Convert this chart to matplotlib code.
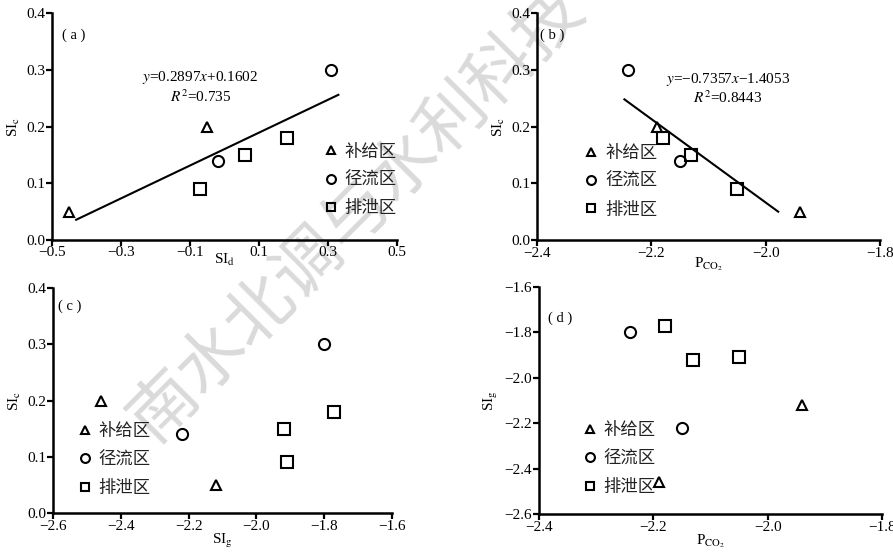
import matplotlib
matplotlib.use("Agg")
import matplotlib.pyplot as plt
import numpy as np

plt.rcParams['font.family'] = ['Liberation Serif', 'Noto Sans CJK SC']
plt.rcParams['mathtext.fontset'] = 'stix'
plt.rcParams['font.size'] = 10.5

# donnees, par zone
# 补给区 (recharge)
bu_sid = [-0.45, -0.05]
bu_sic = [0.05, 0.20]
bu_pco2 = [-1.94, -2.19]
bu_sig = [-2.12, -2.46]
# 径流区 (runoff)
jing_sid = [-0.02, 0.31]
jing_sic = [0.14, 0.30]
jing_pco2 = [-2.15, -2.24]
jing_sig = [-2.22, -1.80]
# 排泄区 (discharge)
pai_sid = [-0.07, 0.06, 0.18]
pai_sic = [0.09, 0.15, 0.18]
pai_pco2 = [-2.05, -2.13, -2.18]
pai_sig = [-1.91, -1.92, -1.77]

zones = ['补给区', '径流区', '排泄区']
markers = ['^', 'o', 's']

fig = plt.figure(figsize=(8.93, 5.54), dpi=100)
ax_a = fig.add_axes([0.0582, 0.5668, 0.3864, 0.4097])
ax_b = fig.add_axes([0.6013, 0.5668, 0.3841, 0.4097])
ax_c = fig.add_axes([0.0594, 0.0740, 0.3796, 0.4061])
ax_d = fig.add_axes([0.6036, 0.0722, 0.3841, 0.4098])

pco2_lab = r'P$_{\mathrm{CO}_2}$'


def scatter_zones(ax, xs, ys):
    for x, y, m, lab in zip(xs, ys, markers, zones):
        ms = 7.5 if m == '^' else 8
        ax.plot(x, y, linestyle='none', marker=m, ms=ms, mfc='none', mec='black',
                mew=1.5, label=lab, zorder=3)


def style_axis(ax, xticks, yticks, xlabel, ylabel, panel, panel_pos, xpad=-1):
    for s in ['top', 'right']:
        ax.spines[s].set_visible(False)
    for s in ['left', 'bottom']:
        ax.spines[s].set_linewidth(1.8)
    ax.set_facecolor('none')
    ax.set_xlim(xticks[0], xticks[-1])
    ax.set_ylim(yticks[0], yticks[-1])
    ax.set_xticks(xticks)
    ax.set_yticks(yticks)
    ax.set_xticklabels([('%.1f' % t).replace('-', '\u2212') for t in xticks])
    ax.set_yticklabels([('%.1f' % t).replace('-', '\u2212') for t in yticks])
    ax.tick_params(direction='out', length=4, width=1.6, pad=1, labelsize=11)
    ax.set_xlabel(xlabel, fontsize=11, labelpad=xpad)
    ax.set_ylabel(ylabel, fontsize=11, labelpad=3)
    ax.text(panel_pos[0], panel_pos[1], panel, transform=ax.transAxes, fontsize=10.5)


def legend_zones(ax, anchor):
    leg = ax.legend(loc='upper left', bbox_to_anchor=anchor, frameon=False,
                    prop={'family': 'Noto Sans CJK SC', 'size': 12.5},
                    handletextpad=0.35, labelspacing=0.6, markerscale=0.8,
                    handlelength=0.9, borderaxespad=0)
    for t in leg.get_texts():
        t.set_color('#222222')


# (a) SIc vs SId
scatter_zones(ax_a, [bu_sid, jing_sid, pai_sid], [bu_sic, jing_sic, pai_sic])
sid_all = np.array(bu_sid + jing_sid + pai_sid)
sic_all = np.array(bu_sic + jing_sic + pai_sic)
k, b = np.polyfit(sid_all, sic_all, 1)
xl = np.array([-0.43, 0.33])
ax_a.plot(xl, k * xl + b, color='black', lw=1.5)
ax_a.text(-0.07, 0.287, r'$y$=%.4f$x$+%.4f' % (k, b), ha='center', va='center', fontsize=11)
ax_a.text(-0.07, 0.252, r'$R^2$=0.735', ha='center', va='center', fontsize=11)
style_axis(ax_a, [-0.5, -0.3, -0.1, 0.1, 0.3, 0.5], [0.0, 0.1, 0.2, 0.3, 0.4],
           r'SI$_\mathrm{d}$', r'SI$_\mathrm{c}$', '( a )', (0.03, 0.885), xpad=-5)
ax_a.tick_params(axis='x', pad=0)
legend_zones(ax_a, (0.765, 0.46))

# (b) SIc vs PCO2
scatter_zones(ax_b, [bu_pco2, jing_pco2, pai_pco2], [bu_sic, jing_sic, pai_sic])
p_all = np.array(bu_pco2 + jing_pco2 + pai_pco2)
k2, b2 = np.polyfit(p_all, sic_all, 1)
xl2 = np.array([-2.247, -1.978])
ax_b.plot(xl2, k2 * xl2 + b2, color='black', lw=1.5)
ax_b.text(-2.066, 0.282, (r'$y$=%.4f$x$%.4f' % (k2, b2)).replace('-', '\u2212'),
          ha='center', va='center', fontsize=11)
ax_b.text(-2.066, 0.250, r'$R^2$=0.8443', ha='center', va='center', fontsize=11)
style_axis(ax_b, [-2.4, -2.2, -2.0, -1.8], [0.0, 0.1, 0.2, 0.3, 0.4],
           pco2_lab, r'SI$_\mathrm{c}$', '( b )', (0.01, 0.885), xpad=-3)
legend_zones(ax_b, (0.115, 0.455))

# (c) SIc vs SIg
scatter_zones(ax_c, [bu_sig, jing_sig, pai_sig], [bu_sic, jing_sic, pai_sic])
style_axis(ax_c, [-2.6, -2.4, -2.2, -2.0, -1.8, -1.6], [0.0, 0.1, 0.2, 0.3, 0.4],
           r'SI$_\mathrm{g}$', r'SI$_\mathrm{c}$', '( c )', (0.015, 0.905))
legend_zones(ax_c, (0.05, 0.435))

# (d) SIg vs PCO2
scatter_zones(ax_d, [bu_pco2, jing_pco2, pai_pco2], [bu_sig, jing_sig, pai_sig])
style_axis(ax_d, [-2.4, -2.2, -2.0, -1.8], [-2.6, -2.4, -2.2, -2.0, -1.8, -1.6],
           pco2_lab, r'SI$_\mathrm{g}$', '( d )', (0.025, 0.845))
legend_zones(ax_d, (0.105, 0.44))

# filigrane (derriere les axes)
fig.text(0.40, 0.615, '南水北调与水利科技', rotation=45, ha='center', va='center',
         fontsize=49, color='#dadada', family='Noto Sans CJK SC', zorder=-1)

fig.savefig('out.png', dpi=100)
